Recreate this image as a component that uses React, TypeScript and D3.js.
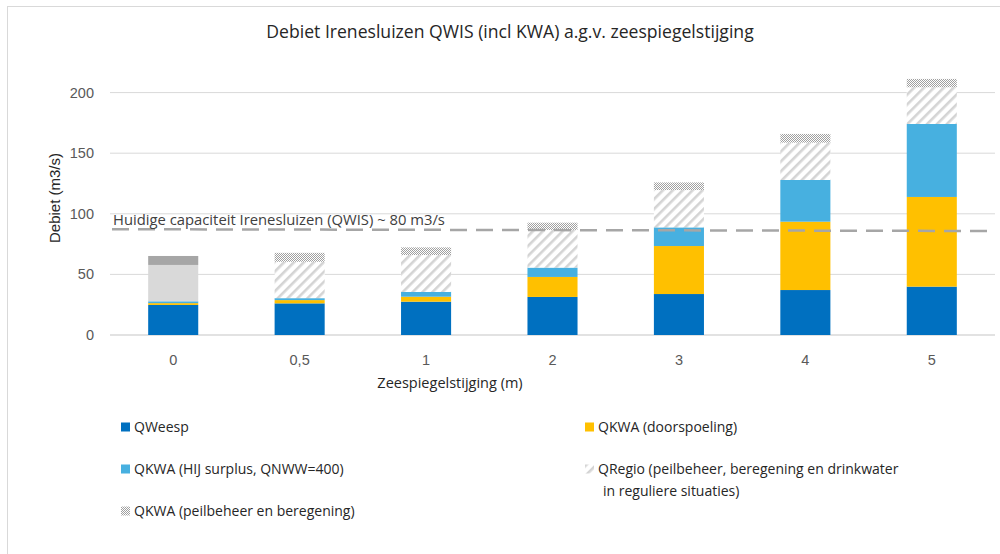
import React from "react";
import * as d3 from "d3";

const categories = ["0", "0,5", "1", "2", "3", "4", "5"];
const qWeesp = [24.8, 26.1, 27.5, 31.4, 33.8, 37.1, 39.9];
const qkwaDoorspoeling = [1.5, 2.7, 4.1, 16.5, 39.6, 56.4, 74.0];
const qkwaSurplus = [1.5, 1.6, 3.9, 7.7, 15.4, 34.4, 60.2];
const qRegio = [30.0, 30.0, 30.5, 31.1, 30.8, 30.8, 30.3];
const qkwaPeil = [7.4, 7.4, 6.3, 6.0, 6.3, 7.2, 6.9];
const yTicks = [0, 50, 100, 150, 200];
const capacityLine = [87.3, 85.8];
const capacityLabel = "Huidige capaciteit Irenesluizen (QWIS) ~ 80 m3/s";
const title = "Debiet Irenesluizen QWIS (incl KWA) a.g.v. zeespiegelstijging";
const xTitle = "Zeespiegelstijging (m)";
const yTitle = "Debiet (m3/s)";

const seriesKeys = ["weesp", "door", "surplus", "regio", "peil"];
const seriesLabels = [
  "QWeesp",
  "QKWA (doorspoeling)",
  "QKWA (HIJ surplus, QNWW=400)",
  "QRegio (peilbeheer, beregening en drinkwater",
  "QKWA (peilbeheer en beregening)",
];

const W = 1000;
const H = 554;
const plotLeft = 110;
const plotRight = 995;
const yBottom = 335;
const yTopAt200 = 92.6;

const fills: Record<string, string> = {
  weesp: "#0070C0",
  door: "#FFC000",
  surplus: "#47B0E0",
  regio: "url(#hatch)",
  peil: "url(#dots)",
};
const firstFills: Record<string, string> = {
  weesp: "#0070C0",
  door: "#FFC000",
  surplus: "#47B0E0",
  regio: "#D9D9D9",
  peil: "#A6A6A6",
};

const FONT_A = "'Open Sans', sans-serif";
const FONT_B = "'Liberation Sans', Arial, sans-serif";

export default function App() {
  const rows = categories.map((c, i) => ({
    cat: c,
    weesp: qWeesp[i],
    door: qkwaDoorspoeling[i],
    surplus: qkwaSurplus[i],
    regio: qRegio[i],
    peil: qkwaPeil[i],
  }));
  const stacked = d3.stack<any>().keys(seriesKeys)(rows);

  const x = d3
    .scaleBand<string>()
    .domain(categories)
    .range([plotLeft, plotRight])
    .paddingInner(0.604)
    .paddingOuter(0.302);
  const y = d3.scaleLinear().domain([0, 200]).range([yBottom, yTopAt200]);

  const xLine = d3.scaleLinear().domain([0, 1]).range([plotLeft + 2, plotRight]);
  const linePath = d3
    .line<number>()
    .x((_, i) => xLine(i / (capacityLine.length - 1)))
    .y((d) => y(d))(capacityLine);

  const legendItems = [
    { key: "weesp", col: 0, row: 0 },
    { key: "door", col: 1, row: 0 },
    { key: "surplus", col: 0, row: 1 },
    { key: "regio", col: 1, row: 1 },
    { key: "peil", col: 0, row: 2 },
  ];
  const legendColX = [121, 585];
  const legendRowY = [427, 469, 511];

  return (
    <div style={{ position: "absolute", left: 0, top: 0 }}>
      <svg width={W} height={H} style={{ display: "block", background: "#fff" }}>
        <defs>
          <pattern id="hatch" patternUnits="userSpaceOnUse" width="7" height="7" patternTransform="rotate(45)">
            <rect width="7" height="7" fill="#fff" />
            <rect x="0" y="0" width="2.6" height="7" fill="#D4D4D4" />
          </pattern>
          <pattern id="dots" patternUnits="userSpaceOnUse" width="2" height="2">
            <rect width="2" height="2" fill="#fff" />
            <rect x="0" y="0" width="1" height="1" fill="#A0A0A0" />
            <rect x="1" y="1" width="1" height="1" fill="#A0A0A0" />
          </pattern>
        </defs>
        <rect x={7.5} y={6.5} width={W + 10} height={H + 10} fill="#fff" stroke="#D9D9D9" strokeWidth={1} />

        <text x={510} y={38} textAnchor="middle" fontFamily={FONT_A} fontSize={17.6} fill="#262626">
          {title}
        </text>

        {yTicks.map((t) => (
          <g key={t}>
            <line x1={plotLeft} x2={plotRight} y1={y(t)} y2={y(t)} stroke="#D9D9D9" strokeWidth={t === 0 ? 1.5 : 1} />
            <text x={94} y={y(t)} dy="0.35em" textAnchor="end" fontFamily={FONT_B} fontSize={14.5} fill="#595959">
              {t}
            </text>
          </g>
        ))}

        {stacked.map((s) => (
          <g key={s.key}>
            {s.map((d, i) => (
              <rect
                key={i}
                x={x(categories[i])}
                width={x.bandwidth()}
                y={y(d[1])}
                height={Math.max(0, y(d[0]) - y(d[1]))}
                fill={i === 0 ? firstFills[s.key] : fills[s.key]}
              />
            ))}
          </g>
        ))}

        <path d={linePath || ""} fill="none" stroke="#A6A6A6" strokeWidth={2.5} strokeDasharray="17 9" />
        <text x={113} y={225} fontFamily={FONT_A} fontSize={14.8} fill="#404040">
          {capacityLabel}
        </text>

        {categories.map((c) => (
          <text key={c} x={(x(c) || 0) + x.bandwidth() / 2} y={360} dy="0.35em" textAnchor="middle" fontFamily={FONT_B} fontSize={14.5} fill="#595959">
            {c}
          </text>
        ))}

        <text x={450} y={383} dy="0.35em" textAnchor="middle" fontFamily={FONT_A} fontSize={14.5} fill="#262626">
          {xTitle}
        </text>
        <text transform={`translate(55,198) rotate(-90)`} dy="0.35em" textAnchor="middle" fontFamily={FONT_B} fontSize={15} fill="#262626">
          {yTitle}
        </text>

        {legendItems.map((it) => {
          const idx = seriesKeys.indexOf(it.key);
          const lx = legendColX[it.col];
          const ly = legendRowY[it.row];
          return (
            <g key={it.key}>
              <rect x={lx} y={ly - 4.5} width={9} height={9} fill={fills[it.key]} />
              <text x={lx + 13} y={ly} dy="0.35em" fontFamily={FONT_A} fontSize={14} fill="#262626">
                {seriesLabels[idx]}
              </text>
              {it.key === "regio" && (
                <text x={lx + 18} y={ly + 22} dy="0.35em" fontFamily={FONT_A} fontSize={14} fill="#262626">
                  in reguliere situaties)
                </text>
              )}
            </g>
          );
        })}
      </svg>
    </div>
  );
}
